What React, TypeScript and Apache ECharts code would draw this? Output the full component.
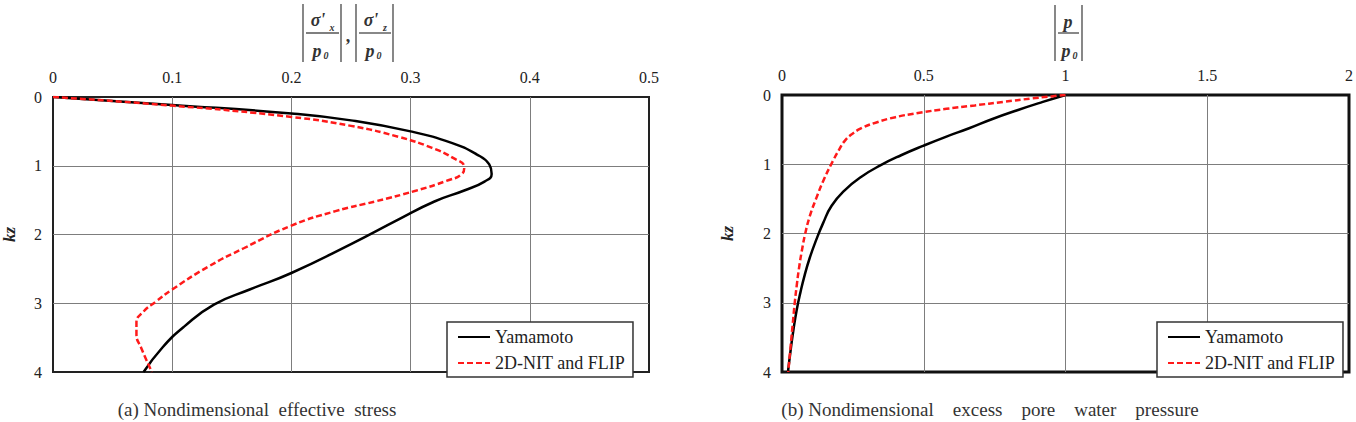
import React, { useEffect, useRef } from "react";
import * as echarts from "echarts";

// Axis ticks
const depthTicks = [0, 1, 2, 3, 4];
const stressTicks = [0, 0.1, 0.2, 0.3, 0.4, 0.5];
const pressureTicks = [0, 0.5, 1, 1.5, 2];

const seriesNames = ["Yamamoto", "2D-NIT and FLIP"];

// (a) nondimensional effective stress |σ'/p0| against depth kz
const stressYamamoto: [number, number][] = [
  [0, 0], [0.1, 0.115], [0.2, 0.24], [0.25, 0.34], [0.3, 0.5], [0.335, 0.67],
  [0.355, 0.83], [0.366, 0.98], [0.368, 1.12], [0.362, 1.23], [0.345, 1.36], [0.32, 1.52],
  [0.29, 1.78], [0.25, 2.14], [0.2, 2.56], [0.165, 2.8], [0.135, 3.02], [0.11, 3.34],
  [0.092, 3.64], [0.076, 4.0],
];
const stressFlip: [number, number][] = [
  [0, 0], [0.1, 0.125], [0.2, 0.29], [0.25, 0.42], [0.29, 0.58], [0.318, 0.74],
  [0.336, 0.89], [0.345, 1.02], [0.343, 1.12], [0.33, 1.22], [0.305, 1.36], [0.27, 1.52],
  [0.237, 1.66], [0.2, 1.87], [0.16, 2.2], [0.13, 2.47], [0.1, 2.8], [0.086, 2.98],
  [0.076, 3.12], [0.07, 3.28], [0.07, 3.45], [0.074, 3.65], [0.083, 4.0],
];

// (b) nondimensional excess pore water pressure |p/p0| against depth kz
const pressureYamamoto: [number, number][] = [
  [1, 0], [0.92, 0.1], [0.83, 0.22], [0.74, 0.35], [0.66, 0.48], [0.58, 0.6],
  [0.5, 0.73], [0.42, 0.87], [0.35, 1.01], [0.28, 1.18], [0.22, 1.38], [0.175, 1.6],
  [0.145, 1.85], [0.12, 2.1], [0.098, 2.35], [0.08, 2.6], [0.065, 2.85], [0.052, 3.1],
  [0.04, 3.4], [0.03, 3.7], [0.021, 4.0],
];
const pressureFlip: [number, number][] = [
  [1, 0], [0.95, 0.02], [0.88, 0.05], [0.78, 0.1], [0.68, 0.15], [0.58, 0.2],
  [0.48, 0.26], [0.4, 0.32], [0.33, 0.4], [0.28, 0.48], [0.245, 0.57], [0.22, 0.67],
  [0.2, 0.8], [0.18, 0.95], [0.15, 1.2], [0.12, 1.5], [0.098, 1.75], [0.082, 2.0],
  [0.07, 2.25], [0.06, 2.5], [0.052, 2.75], [0.045, 3.0], [0.038, 3.3], [0.031, 3.6],
  [0.022, 4.0],
];

const captions = [
  "(a) Nondimensional\u00a0 effective\u00a0 stress",
  "(b) Nondimensional\u00a0\u00a0\u00a0 excess\u00a0\u00a0\u00a0 pore\u00a0\u00a0\u00a0 water\u00a0\u00a0\u00a0 pressure",
];

const SERIF = "Liberation Serif";
const INK = "#222";
const GRIDLINE = "#7d7d7d";
const RED = "#ff1a1a";

const tickStep = (t: number[]) => t[1] - t[0];

function xAxisFor(gridIndex: number, ticks: number[]) {
  return {
    type: "value",
    gridIndex,
    position: "top",
    min: ticks[0],
    max: ticks[ticks.length - 1],
    interval: tickStep(ticks),
    axisLine: { show: false },
    axisTick: { show: false },
    axisLabel: { fontFamily: SERIF, fontSize: 16, color: INK, margin: 12 },
    splitLine: {
      show: true,
      showMinLine: false,
      showMaxLine: false,
      lineStyle: { color: GRIDLINE, width: 1 },
    },
  };
}

function yAxisFor(gridIndex: number, nameGap: number) {
  return {
    type: "value",
    gridIndex,
    inverse: true,
    min: depthTicks[0],
    max: depthTicks[depthTicks.length - 1],
    interval: tickStep(depthTicks),
    name: "kz",
    nameLocation: "middle",
    nameRotate: 90,
    nameGap,
    nameTextStyle: {
      fontFamily: SERIF,
      fontStyle: "italic",
      fontWeight: "bold",
      fontSize: 17,
      color: INK,
    },
    axisLine: { show: false },
    axisTick: { show: false },
    axisLabel: { fontFamily: SERIF, fontSize: 16, color: INK, margin: 11 },
    splitLine: {
      show: true,
      showMinLine: false,
      showMaxLine: false,
      lineStyle: { color: GRIDLINE, width: 1 },
    },
  };
}

function curve(name: string, idx: number, data: [number, number][], dashed: boolean) {
  return {
    type: "line",
    name,
    xAxisIndex: idx,
    yAxisIndex: idx,
    data,
    smooth: 0.5,
    symbol: "none",
    z: dashed ? 3 : 2,
    lineStyle: dashed
      ? { color: RED, width: 2.5, type: [6, 3] }
      : { color: "#000", width: 2.5, type: "solid" },
    itemStyle: { color: dashed ? RED : "#000" },
  };
}

function legendAt(left: number) {
  return {
    orient: "vertical",
    left,
    top: 322,
    data: seriesNames,
    selectedMode: false,
    backgroundColor: "#fff",
    borderColor: "#333",
    borderWidth: 1.5,
    borderRadius: 0,
    padding: [6, 8, 5, 10],
    itemGap: 8,
    itemWidth: 32,
    itemHeight: 14,
    itemStyle: { opacity: 0 },
    textStyle: { fontFamily: SERIF, fontSize: 18, color: INK },
  };
}

// Formula pieces for the axis titles
function txt(text: string, x: number, y: number, size: number, italic = true, bold = true) {
  return {
    type: "text",
    x,
    y,
    silent: true,
    style: {
      text,
      fontFamily: SERIF,
      fontSize: size,
      fontStyle: italic ? "italic" : "normal",
      fontWeight: bold ? "bold" : "normal",
      fill: "#333",
      align: "center",
      verticalAlign: "middle",
      textAlign: "center",
      textVerticalAlign: "middle",
    },
  };
}

function rule(x1: number, y1: number, x2: number, y2: number) {
  return {
    type: "line",
    silent: true,
    shape: { x1, y1, x2, y2 },
    style: { stroke: "#555", lineWidth: 1.4 },
  };
}

const titleGraphics = [
  // |σ'x / p0|
  rule(303, 4, 303, 62),
  rule(306, 33, 339, 33),
  txt("σ'", 318, 20, 18),
  txt("x", 332, 27, 10),
  txt("p", 317, 51, 18),
  txt("0", 326, 55, 10),
  rule(341, 4, 341, 62),
  txt(",", 348, 36, 18, false, true),
  // |σ'z / p0|
  rule(356, 4, 356, 62),
  rule(359, 33, 391, 33),
  txt("σ'", 371, 20, 18),
  txt("z", 385, 27, 10),
  txt("p", 370, 51, 18),
  txt("0", 379, 55, 10),
  rule(393, 4, 393, 62),
  // |p / p0|
  rule(1055, 5, 1055, 61),
  rule(1058, 33, 1079, 33),
  txt("p", 1068, 22, 18),
  txt("p", 1066, 51, 18),
  txt("0", 1075, 55, 10),
  rule(1082, 5, 1082, 61),
];

const captionGraphics = [
  txt(captions[0], 257, 409, 19, false, false),
  txt(captions[1], 990, 409, 19, false, false),
];

export default function App() {
  const ref = useRef<HTMLDivElement>(null);

  useEffect(() => {
    if (!ref.current) return;
    const chart = echarts.init(ref.current, undefined, { renderer: "svg" });
    chart.setOption({
      animation: false,
      backgroundColor: "#fff",
      textStyle: { fontFamily: SERIF },
      grid: [
        { left: 43, top: 97, width: 606, height: 275, show: true, borderColor: "#222", borderWidth: 2, backgroundColor: "transparent" },
        { left: 782, top: 95, width: 572, height: 277, show: true, borderColor: "#111", borderWidth: 3, backgroundColor: "transparent" },
      ],
      xAxis: [xAxisFor(0, stressTicks), xAxisFor(1, pressureTicks)],
      yAxis: [yAxisFor(0, 35), yAxisFor(1, 46)],
      legend: [legendAt(447), legendAt(1157)],
      series: [
        curve(seriesNames[0], 0, stressYamamoto, false),
        curve(seriesNames[1], 0, stressFlip, true),
        curve(seriesNames[0], 1, pressureYamamoto, false),
        curve(seriesNames[1], 1, pressureFlip, true),
      ],
      graphic: [...titleGraphics, ...captionGraphics],
    });
    return () => chart.dispose();
  }, []);

  return (
    <div
      ref={ref}
      style={{ position: "fixed", left: 0, top: 0, width: 1356, height: 422, background: "#fff" }}
    />
  );
}
